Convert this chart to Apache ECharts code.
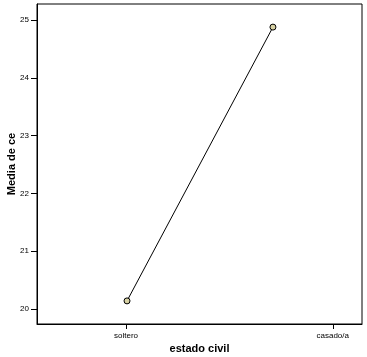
<!DOCTYPE html>
<html><head><meta charset="utf-8">
<script src="https://cdn.jsdelivr.net/npm/echarts@6/dist/echarts.min.js"></script>
<style>html,body{margin:0;padding:0;background:#fff}#c{width:367px;height:357px}</style>
</head><body><div id="c"></div>
<script>
const categories = ['soltero', 'casado/a'];
const values = [20.14, 24.88];
// horizontal positions of the points and of the category labels (as drawn in the original)
const pointPos = [2.77, 7.26];
const labelPos = [2.74, 9.1];
const yTicks = [20, 21, 22, 23, 24, 25];

const chart = echarts.init(document.getElementById('c'));
const font = 'Liberation Sans, Arial, sans-serif';
chart.setOption({
  animation: false,
  grid: {left: 37, right: 5, top: 4, bottom: 33, outerBoundsMode: 'none', containLabel: false,
    show: true, borderColor: '#000', borderWidth: 1},
  xAxis: {
    type: 'value', min: 0, max: 10,
    name: 'estado civil', nameLocation: 'middle', nameGap: 19, nameMoveOverlap: false,
    nameTextStyle: {fontFamily: font, fontWeight: 'bold', fontSize: 11, color: '#000'},
    splitLine: {show: false},
    axisLine: {show: true, lineStyle: {color: '#000'}},
    axisTick: {show: true, customValues: labelPos, length: 5, lineStyle: {color: '#000'}},
    axisLabel: {customValues: labelPos, margin: 8, fontFamily: font, fontSize: 8, color: '#000',
      formatter: v => { const i = labelPos.findIndex(p => Math.abs(p - v) < 1e-6); return i >= 0 ? categories[i] : ''; }}
  },
  yAxis: {
    type: 'value', min: 19.74, max: 25.28,
    name: 'Media de ce', nameLocation: 'middle', nameGap: 20, nameMoveOverlap: false,
    nameTextStyle: {fontFamily: font, fontWeight: 'bold', fontSize: 11, color: '#000'},
    splitLine: {show: false},
    axisLine: {show: true, lineStyle: {color: '#000'}},
    axisTick: {show: true, customValues: yTicks, length: 6, lineStyle: {color: '#000'}},
    axisLabel: {customValues: yTicks, margin: 8, fontFamily: font, fontSize: 8, color: '#000'}
  },
  series: [{
    type: 'line',
    data: values.map((v, i) => [pointPos[i], v]),
    symbol: 'circle', symbolSize: 6,
    lineStyle: {color: '#000', width: 1},
    itemStyle: {color: '#d8d2a4', borderColor: '#000', borderWidth: 1}
  }]
});
</script></body></html>
